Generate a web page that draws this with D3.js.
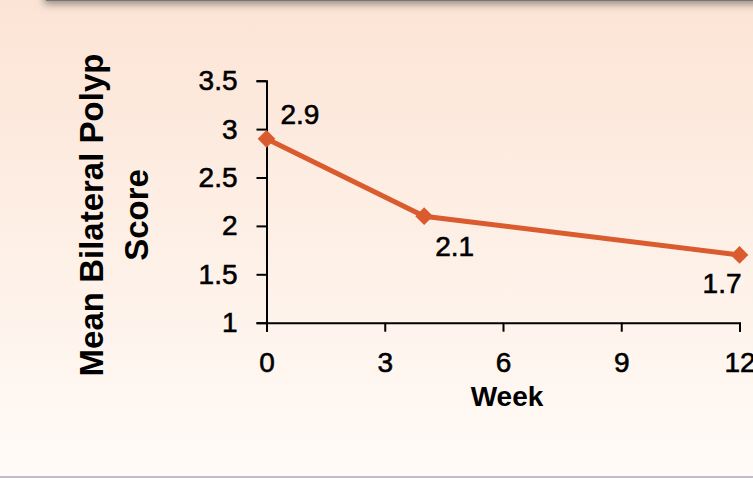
<!DOCTYPE html>
<html lang="en">
<head>
    <meta charset="UTF-8">
    <title>Mean Bilateral Polyp Score</title>
    <style>
        html, body { margin: 0; padding: 0; }
        body { width: 753px; height: 478px; overflow: hidden; }
        svg { display: block; font-family: "Liberation Sans", Arial, sans-serif; }
    </style>
</head>
<body>
    <svg id="chart" width="753" height="478"></svg>

    <script src="https://cdnjs.cloudflare.com/ajax/libs/d3/7.8.5/d3.min.js"></script>
    <script>
        // data
        var weeks = [0, 4, 12];
        var scores = [2.9, 2.1, 1.7];
        var pointLabels = ["2.9", "2.1", "1.7"];
        var xTicks = [0, 3, 6, 9, 12];
        var yTicks = [1, 1.5, 2, 2.5, 3, 3.5];

        var svg = d3.select("#chart");
        var width = 753, height = 478;
        var orange = "#d95b2e";

        // background gradient
        var defs = svg.append("defs");
        var grad = defs.append("linearGradient")
            .attr("id", "bg").attr("x1", 0).attr("y1", 0).attr("x2", 0).attr("y2", 1);
        grad.append("stop").attr("offset", "0%").attr("stop-color", "#fce4d5");
        grad.append("stop").attr("offset", "100%").attr("stop-color", "#fffbf7");

        var blur = defs.append("filter").attr("id", "shadow")
            .attr("x", "-5%").attr("y", "-200%").attr("width", "110%").attr("height", "500%");
        blur.append("feGaussianBlur").attr("stdDeviation", 4);

        svg.append("rect").attr("width", width).attr("height", height).attr("fill", "url(#bg)");

        // top banner edge with its shadow
        svg.append("rect")
            .attr("x", 44).attr("y", -20).attr("width", width).attr("height", 24)
            .attr("fill", "#8f8680").attr("filter", "url(#shadow)");
        svg.append("rect")
            .attr("x", 46).attr("y", -10).attr("width", width).attr("height", 11)
            .attr("fill", "#7d746e");

        // bottom edge
        svg.append("rect")
            .attr("x", 0).attr("y", height - 2).attr("width", width).attr("height", 2)
            .attr("fill", "#c3bcc6");

        var x = d3.scaleLinear().domain([0, 12]).range([266.5, 739.5]);
        var y = d3.scaleLinear().domain([1, 3.5]).range([322.7, 80.7]);

        // axes
        var yAxis = d3.axisLeft(y)
            .tickValues(yTicks)
            .tickFormat(d3.format("~g"))
            .tickSize(10)
            .tickSizeOuter(10)
            .tickPadding(19);

        var xAxis = d3.axisBottom(x)
            .tickValues(xTicks)
            .tickSize(9)
            .tickSizeOuter(9)
            .tickPadding(20);

        var gy = svg.append("g")
            .attr("transform", "translate(" + x(0) + ",0)")
            .call(yAxis);

        var gx = svg.append("g")
            .attr("transform", "translate(0," + y(1) + ")")
            .call(xAxis);

        [gx, gy].forEach(function (g) {
            g.selectAll("path, line").attr("stroke", "#000").attr("stroke-width", 2);
            g.selectAll("text")
                .attr("fill", "#000")
                .attr("stroke", "#000")
                .attr("stroke-width", 0.6)
                .style("font-size", "28px")
                .style("font-family", "'Liberation Sans', Arial, sans-serif");
        });

        // line and diamond markers
        var line = d3.line()
            .x(function (d, i) { return x(weeks[i]); })
            .y(function (d) { return y(d); });

        svg.append("path")
            .datum(scores)
            .attr("fill", "none")
            .attr("stroke", orange)
            .attr("stroke-width", 5)
            .attr("d", line);

        var diamond = d3.symbol().type(d3.symbolDiamond2).size(200);

        svg.selectAll(".marker")
            .data(scores)
            .enter().append("path")
            .attr("class", "marker")
            .attr("transform", function (d, i) {
                return "translate(" + x(weeks[i]) + "," + y(d) + ")";
            })
            .attr("d", diamond)
            .attr("fill", orange);

        // data labels: offsets from each point
        var labelDx = [14, 11, 2];
        var labelDy = [-15, 40, 38];
        var labelAnchor = ["start", "start", "end"];

        svg.selectAll(".plabel")
            .data(scores)
            .enter().append("text")
            .attr("class", "plabel")
            .attr("x", function (d, i) { return x(weeks[i]) + labelDx[i]; })
            .attr("y", function (d, i) { return y(d) + labelDy[i]; })
            .attr("text-anchor", function (d, i) { return labelAnchor[i]; })
            .attr("stroke", "#000")
            .attr("stroke-width", 0.6)
            .style("font-size", "28px")
            .text(function (d, i) { return pointLabels[i]; });

        // axis titles
        svg.append("text")
            .attr("x", 507).attr("y", 406)
            .attr("text-anchor", "middle")
            .style("font-size", "28px")
            .style("font-weight", "bold")
            .text("Week");

        var yTitle = svg.append("text")
            .attr("transform", "translate(103,215) rotate(-90)")
            .attr("text-anchor", "middle")
            .style("font-size", "33px")
            .style("font-weight", "bold");
        yTitle.append("tspan").attr("x", 0).attr("y", 0).text("Mean Bilateral Polyp");
        yTitle.append("tspan").attr("x", 0).attr("y", 45).text("Score");
    </script>
</body>
</html>
